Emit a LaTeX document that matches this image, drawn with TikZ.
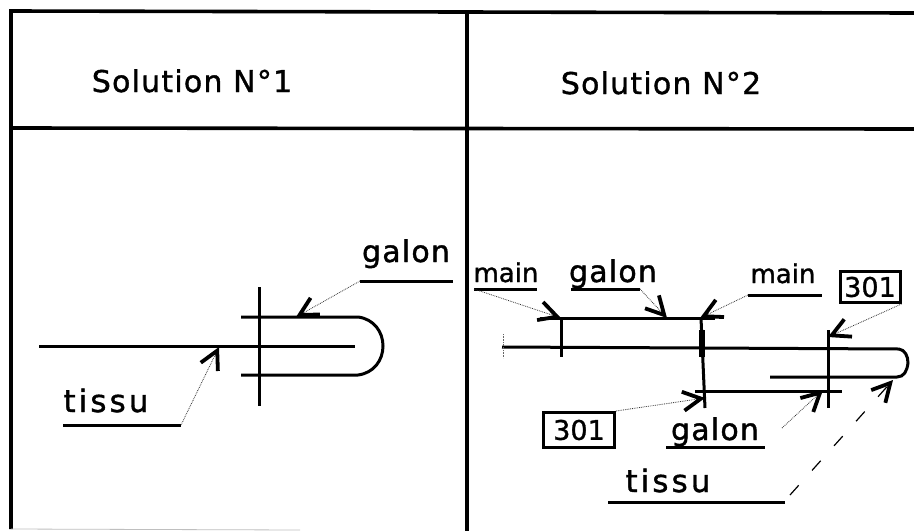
\documentclass[tikz,border=0pt]{standalone}
\usepackage{fontspec}
\usetikzlibrary{arrows.meta}
\newfontfamily\plotfont[LetterSpace=4,FakeBold=1.2]{DejaVu Sans}
\newfontfamily\plottight[LetterSpace=0,FakeBold=1.2]{DejaVu Sans}
\newfontfamily\plotwide[LetterSpace=10,FakeBold=1.2]{DejaVu Sans}
\tikzset{
  x=1pt,y=-1pt,
  frameline/.style={line width=3.6pt,black},
  partline/.style={line width=3pt,black},
  underl/.style={line width=3pt,black},
  head/.style={font=\plotfont\fontsize{30}{32}\selectfont,inner sep=0pt,anchor=base},
  lab/.style={font=\plotfont\fontsize{30}{32}\selectfont,inner sep=0pt,anchor=base},
  widelab/.style={font=\plotwide\fontsize{31}{32}\selectfont,inner sep=0pt,anchor=base},
  smalllab/.style={font=\plottight\fontsize{26}{28}\selectfont,inner sep=0pt,anchor=base},
  numbox/.style={draw,line width=3pt,font=\plottight\fontsize{27}{28}\selectfont,inner sep=0pt,minimum height=31pt},
  tipv/.style={-{Straight Barb[length=18pt,width=19pt,line width=3.8pt,black]}},
  leader/.style={densely dotted,line width=.8pt,black!80,tipv},
  dashleader/.style={dash pattern=on 13pt off 20pt,line width=1.2pt,black,tipv},
}
\begin{document}
\begin{tikzpicture}
\useasboundingbox (0,0) rectangle (914,531);
\fill[white] (0,0) rectangle (914,531);
% frame
\coordinate (tl) at (11,11); \coordinate (tr) at (914,13);
\coordinate (bl) at (11,529); \coordinate (ml) at (11,128);
\coordinate (mr) at (914,129); \coordinate (tm) at (467,11); \coordinate (bm) at (467,531);
\draw[frameline] (bl) -- (tl) -- (tr);
\draw[frameline] (ml) -- (mr);
\draw[frameline] (tm) -- (bm);
\draw[line width=.8pt,black!25] (bl) -- (300,530);
% headers
\node[head] (h1) at (192,92) {Solution N°1};
\node[head] (h2) at (661,94) {Solution N°2};
% solution 1 drawing
\coordinate (a1) at (39,346); \coordinate (a2) at (355,346);
\coordinate (b1) at (241,317); \coordinate (b2) at (358,317);
\coordinate (c1) at (241,375); \coordinate (c2) at (358,375);
\coordinate (v1) at (259,287); \coordinate (v2) at (259,406);
\draw[partline] (a1) -- (a2);
\draw[partline] (b1) -- (b2) .. controls (374,319) and (383,332) .. (383,346)
   .. controls (383,360) and (374,373) .. (c2) -- (c1);
\draw[partline] (v1) -- (v2);
% solution 1 labels
\node[lab] (g1) at (406,262) {galon};
\coordinate (g1a) at (360,281); \coordinate (g1b) at (453,281);
\draw[underl] (g1a) -- (g1b);
\coordinate (g1t) at (296,317);
\draw[leader] (g1a) -- (g1t);
\node[widelab] (t1) at (106,412) {tissu};
\coordinate (t1a) at (63,425); \coordinate (t1b) at (181,425);
\draw[underl] (t1a) -- (t1b);
\coordinate (t1t) at (219,347);
\draw[leader] (t1b) -- (t1t);
% solution 2 drawing
\coordinate (p1) at (502,347); \coordinate (p2) at (899,349);
\coordinate (q1) at (770,377); \coordinate (q2) at (897,377);
\coordinate (r1) at (540,318); \coordinate (r2) at (715,318);
\coordinate (s1) at (695,391); \coordinate (s2) at (842,391);
\coordinate (u1) at (561,318); \coordinate (u2) at (561,357);
\coordinate (w1) at (701,318); \coordinate (w2) at (705,408);
\coordinate (w3) at (702,330); \coordinate (w4) at (702,357);
\coordinate (z1) at (828,330); \coordinate (z2) at (828,408);
\coordinate (k1) at (503,334); \coordinate (k2) at (503,358);
\draw[partline] (p1) -- (p2) .. controls (905,350) and (908,356) .. (908,363)
   .. controls (907,371) and (904,377) .. (q2) -- (q1);
\draw[partline] (r1) -- (r2);
\draw[partline] (s1) -- (s2);
\draw[partline] (u1) -- (u2);
\draw[partline] (w1) -- (w2);
\draw[line width=6pt] (w3) -- (w4);
\draw[partline] (z1) -- (z2);
\draw[line width=.6pt,densely dotted,black!60] (k1) -- (k2);
% solution 2 labels
\node[smalllab] (m1) at (506,282) {main};
\coordinate (m1a) at (474,289); \coordinate (m1b) at (537,289);
\draw[underl] (m1a) -- (m1b);
\coordinate (m1t) at (561,318);
\draw[leader] (m1a) -- (m1t);
\node[lab] (g2) at (613,282) {galon};
\coordinate (g2a) at (571,289); \coordinate (g2b) at (640,289);
\draw[underl] (g2a) -- (g2b);
\coordinate (g2t) at (667,318);
\draw[leader] (g2b) -- (g2t);
\node[smalllab] (m2) at (783,283) {main};
\coordinate (m2a) at (748,295); \coordinate (m2b) at (822,295);
\draw[underl] (m2a) -- (m2b);
\coordinate (m2t) at (700,318);
\draw[leader] (m2a) -- (m2t);
\node[numbox,minimum width=60pt] (n1) at (870,287) {301};
\coordinate (n1t) at (828,337);
\draw[leader] (n1.south east) -- (n1t);
\node[numbox,minimum width=71pt,minimum height=35pt] (n2) at (579,430) {301};
\coordinate (n2t) at (705,398);
\draw[leader] (n2.north east) -- (n2t);
\node[lab] (g3) at (715,440) {galon};
\coordinate (g3a) at (666,447); \coordinate (g3b) at (765,447);
\draw[underl] (g3a) -- (g3b);
\coordinate (g3s) at (782,428); \coordinate (g3t) at (823,390);
\draw[leader] (g3s) -- (g3t);
\node[widelab] (t2) at (668,492) {tissu};
\coordinate (t2a) at (608,502); \coordinate (t2b) at (785,502);
\draw[underl] (t2a) -- (t2b);
\coordinate (t2s) at (790,495); \coordinate (t2t) at (893,380);
\draw[dashleader] (t2s) -- (t2t);
\end{tikzpicture}
\end{document}
